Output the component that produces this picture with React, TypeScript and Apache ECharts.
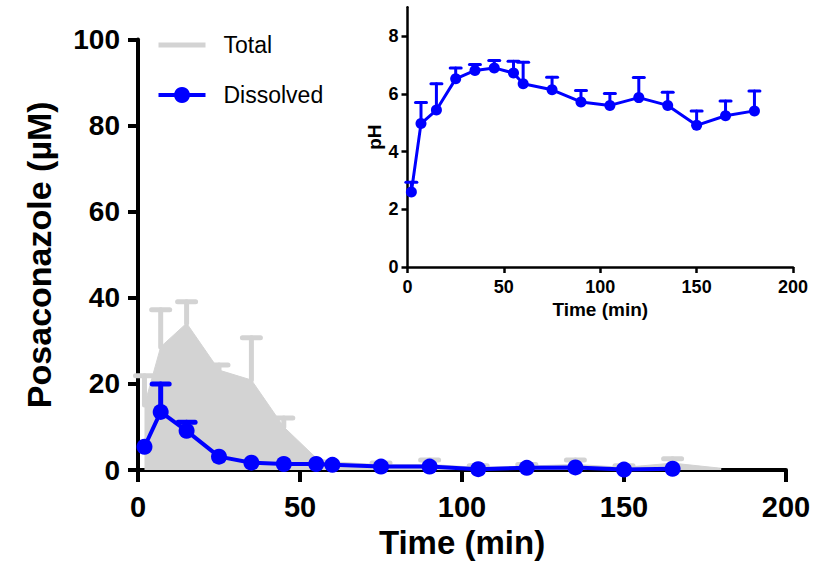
import React, { useEffect, useRef } from "react";
import * as echarts from "echarts";

// ---- data ----
const times = [2, 7, 15, 25, 35, 45, 55, 60, 75, 90, 105, 120, 135, 150, 165, 180];
const totalMean = [15.1, 28.6, 34.1, 23.2, 20.9, 10.0, 2.8, 1.9, 1.2, 1.3, 0.6, 0.9, 1.3, 0.6, 1.6, 0.4];
const totalUpper = [21.9, 37.2, 39.1, 24.4, 30.7, 12.1, 2.8, 1.9, 1.6, 2.3, 1.0, 1.3, 2.3, 1.0, 2.6, 0.4];

const dissolvedTimes = [2, 7, 15, 25, 35, 45, 55, 60, 75, 90, 105, 120, 135, 150, 165];
const dissolvedMean = [5.4, 13.5, 9.1, 3.1, 1.7, 1.4, 1.4, 1.2, 0.8, 0.8, 0.2, 0.5, 0.6, 0.1, 0.3];
const dissolvedUpper = [5.4, 20.0, 11.1, 3.1, 1.7, 1.4, 1.4, 1.2, 0.8, 0.8, 0.2, 0.5, 0.6, 0.1, 0.3];

const phTimes = [2, 7, 15, 25, 35, 45, 55, 60, 75, 90, 105, 120, 135, 150, 165, 180];
const phMean = [2.6, 4.97, 5.44, 6.52, 6.81, 6.9, 6.72, 6.35, 6.14, 5.72, 5.6, 5.87, 5.6, 4.91, 5.24, 5.41];
const phUpper = [2.94, 5.7, 6.35, 6.9, 7.02, 7.16, 7.13, 7.1, 6.58, 6.12, 6.01, 6.57, 6.06, 5.41, 5.75, 6.1];

const xTicks = [0, 50, 100, 150, 200];
const mainYTicks = [0, 20, 40, 60, 80, 100];
const phYTicks = [0, 2, 4, 6, 8];

const FONT = "'Liberation Sans', Arial, Helvetica, sans-serif";
const BLUE = "#0000ff";
const GRAY = "#d3d3d3";

function errRender(color: string, lw: number, capHalf: number) {
  return (params: any, api: any) => {
    const x = api.value(0);
    const y = api.value(1);
    const hi = api.value(2);
    if (hi <= y) return { type: "group", children: [] };
    const p0 = api.coord([x, y]);
    const p1 = api.coord([x, hi]);
    const style = { stroke: color, lineWidth: lw, lineCap: "round" };
    return {
      type: "group",
      children: [
        { type: "line", shape: { x1: p0[0], y1: p0[1], x2: p1[0], y2: p1[1] }, style },
        { type: "line", shape: { x1: p1[0] - capHalf, y1: p1[1], x2: p1[0] + capHalf, y2: p1[1] }, style },
      ],
    };
  };
}

export default function App() {
  const ref = useRef<HTMLDivElement>(null);

  useEffect(() => {
    document.body.style.margin = "0";
    const chart = echarts.init(ref.current!, null, { renderer: "svg" });
    const boldAxis = (size: number) => ({ fontFamily: FONT, fontWeight: "bold", fontSize: size, color: "#000" });

    chart.setOption({
      animation: false,
      backgroundColor: "#fff",
      legend: {
        orient: "vertical",
        left: 151,
        top: 28,
        itemWidth: 47,
        itemHeight: 20,
        itemGap: 26,
        textStyle: { fontFamily: FONT, fontSize: 23, color: "#000", lineHeight: 24, padding: [0, 0, 0, 13] },
        data: [
          { name: "Total", itemStyle: { color: GRAY, opacity: 0 }, lineStyle: { width: 5, color: GRAY, opacity: 1 } },
          { name: "Dissolved", lineStyle: { width: 4, color: BLUE } },
        ],
      },
      grid: [
        { left: 138, right: 33, top: 39.5, bottom: 104 },
        { left: 407.5, right: 26, top: 7.3, bottom: 307 },
      ],
      xAxis: [
        {
          type: "value",
          gridIndex: 0,
          min: xTicks[0],
          max: xTicks[xTicks.length - 1],
          interval: 50,
          name: "Time (min)",
          nameLocation: "middle",
          nameGap: 51,
          nameTextStyle: boldAxis(33),
          axisLine: { show: true, lineStyle: { color: "#000", width: 4 } },
          axisTick: { show: true, length: 12, lineStyle: { color: "#000", width: 4 } },
          axisLabel: { ...boldAxis(29), margin: 22 },
          splitLine: { show: false },
        },
        {
          type: "value",
          gridIndex: 1,
          min: xTicks[0],
          max: xTicks[xTicks.length - 1],
          interval: 50,
          name: "Time (min)",
          nameLocation: "middle",
          nameGap: 33,
          nameTextStyle: boldAxis(19),
          axisLine: { show: true, lineStyle: { color: "#000", width: 2.5 } },
          axisTick: { show: true, length: 6, lineStyle: { color: "#000", width: 2.5 } },
          axisLabel: { ...boldAxis(18), margin: 11 },
          splitLine: { show: false },
        },
      ],
      yAxis: [
        {
          type: "value",
          gridIndex: 0,
          min: mainYTicks[0],
          max: mainYTicks[mainYTicks.length - 1],
          interval: 20,
          name: "Posaconazole (µM)",
          nameLocation: "middle",
          nameGap: 82,
          nameTextStyle: boldAxis(34),
          axisLine: { show: true, lineStyle: { color: "#000", width: 4 } },
          axisTick: { show: true, length: 10, lineStyle: { color: "#000", width: 4 } },
          axisLabel: { ...boldAxis(28), margin: 18 },
          splitLine: { show: false },
        },
        {
          type: "value",
          gridIndex: 1,
          min: 0,
          max: 9,
          interval: 2,
          name: "pH",
          nameLocation: "middle",
          nameGap: 24,
          nameTextStyle: boldAxis(19),
          axisLine: { show: true, lineStyle: { color: "#000", width: 2.5 } },
          axisTick: { show: true, length: 6, lineStyle: { color: "#000", width: 2.5 }, customValues: phYTicks },
          axisLabel: { ...boldAxis(18), margin: 9, customValues: phYTicks },
          splitLine: { show: false },
        },
      ],
      series: [
        {
          name: "Total",
          type: "line",
          xAxisIndex: 0,
          yAxisIndex: 0,
          data: times.map((t, i) => [t, totalMean[i]]),
          symbol: "none",
          lineStyle: { color: GRAY, width: 1 },
          itemStyle: { color: GRAY },
          areaStyle: { color: GRAY, opacity: 1 },
          z: 1,
        },
        {
          name: "TotalErr",
          type: "custom",
          xAxisIndex: 0,
          yAxisIndex: 0,
          clip: false,
          renderItem: errRender(GRAY, 5, 9),
          data: times.map((t, i) => [t, totalMean[i], totalUpper[i]]),
          encode: { x: 0, y: 1 },
          z: 2,
        },
        {
          name: "DissolvedErr",
          type: "custom",
          xAxisIndex: 0,
          yAxisIndex: 0,
          clip: false,
          renderItem: errRender(BLUE, 5, 8.5),
          data: dissolvedTimes.map((t, i) => [t, dissolvedMean[i], dissolvedUpper[i]]),
          encode: { x: 0, y: 1 },
          z: 3,
        },
        {
          name: "Dissolved",
          type: "line",
          xAxisIndex: 0,
          yAxisIndex: 0,
          data: dissolvedTimes.map((t, i) => [t, dissolvedMean[i]]),
          symbol: "circle",
          symbolSize: 16,
          lineStyle: { color: BLUE, width: 4 },
          itemStyle: { color: BLUE },
          z: 4,
        },
        {
          name: "pHErr",
          type: "custom",
          xAxisIndex: 1,
          yAxisIndex: 1,
          clip: false,
          renderItem: errRender(BLUE, 3, 5.5),
          data: phTimes.map((t, i) => [t, phMean[i], phUpper[i]]),
          encode: { x: 0, y: 1 },
          z: 3,
        },
        {
          name: "pH",
          type: "line",
          xAxisIndex: 1,
          yAxisIndex: 1,
          data: phTimes.map((t, i) => [t, phMean[i]]),
          symbol: "circle",
          symbolSize: 11,
          lineStyle: { color: BLUE, width: 3 },
          itemStyle: { color: BLUE },
          z: 4,
        },
      ],
    });

    return () => chart.dispose();
  }, []);

  return <div ref={ref} style={{ width: 819, height: 574 }} />;
}
